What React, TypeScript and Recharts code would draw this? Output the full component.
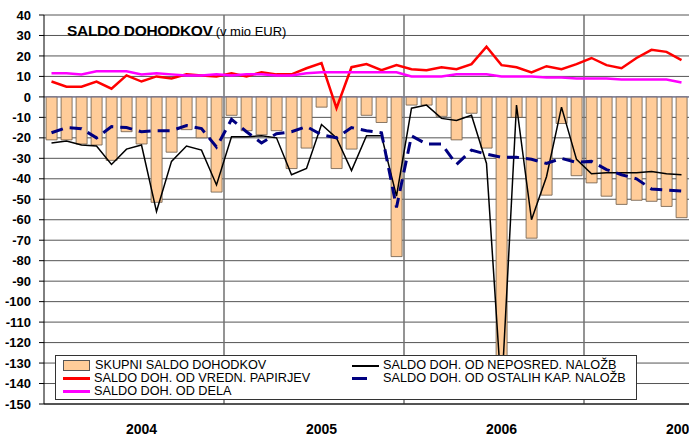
import {
  ComposedChart,
  Bar,
  Line,
  XAxis,
  YAxis,
  CartesianGrid,
  ReferenceLine,
} from "recharts";

// ==================== DATA ====================

const months = [
  "01/04", "02/04", "03/04", "04/04", "05/04", "06/04", "07/04", "08/04", "09/04", "10/04", "11/04", "12/04",
  "01/05", "02/05", "03/05", "04/05", "05/05", "06/05", "07/05", "08/05", "09/05", "10/05", "11/05", "12/05",
  "01/06", "02/06", "03/06", "04/06", "05/06", "06/06", "07/06", "08/06", "09/06", "10/06", "11/06", "12/06",
  "01/07", "02/07", "03/07", "04/07", "05/07", "06/07", "07/07",
];

// skupni saldo dohodkov (bars)
const skupni = [
  -21, -21, -23, -23.5, -31, -17, -23, -51.5, -27, -16, -20, -46.5,
  -9, -16.5, -18.5, -16.5, -35, -25, -5, -35, -25.5, -9, -12.5, -78,
  -4, -4, -9.5, -21, -8, -25, -147, -10, -69, -48, -13, -38.5,
  -42, -48.5, -52.5, -50.5, -51, -53.5, -59,
];

// neposredne nalozbe
const neposred = [
  -22.5, -21.5, -23.5, -24, -33, -25.5, -23.5, -56, -31.5, -24, -26, -43,
  -19.5, -19.5, -19, -20, -38, -35, -13.5, -20, -36, -19, -19, -48.5,
  -5.5, -4, -10.5, -11.5, -9, -32.5, -145, -4, -60, -39, -5, -30.5,
  -37.5, -37, -37, -37, -36.5, -37.5, -38,
];

// ostale kapitalske nalozbe
const ostalih = [
  -17.5, -15, -15.5, -20, -14.5, -15, -17, -16.5, -16.5, -14, -15.5, -24.5,
  -11, -17, -22.5, -18, -17, -14.5, -18.5, -20, -15, -16.5, -17.5, -54,
  -19, -23, -23, -33, -26, -28, -29.5, -29.5, -30.5, -32.5, -30, -32,
  -31.5, -35.5, -38, -40, -45, -45.5, -46,
];

// vrednostni papirji
const vredn = [
  7.5, 5, 5, 7.5, 4, 10.5, 7.5, 10, 9, 11, 10.5, 10,
  11.5, 10, 12, 11, 11, 14, 16.5, -5.5, 14.5, 16, 13, 15.5,
  13.5, 13, 14.5, 13.5, 16, 24.5, 15.5, 14.5, 12, 15, 13.5, 16,
  19, 15.5, 14, 19, 23, 22, 18,
];

// dohodki od dela
const dela = [
  11.5, 11.5, 11, 12.5, 12.5, 12.5, 11, 11.5, 11, 10.5, 10.5, 11,
  10.5, 11, 11, 10.5, 10.5, 11.5, 12, 12, 12, 12, 12, 12,
  10, 10, 10, 11, 11, 11, 10, 10, 10, 9.5, 9.5, 9,
  9, 9, 8.5, 8.5, 8.5, 8.5, 7,
];

const yTicks = [40, 30, 20, 10, 0, -10, -20, -30, -40, -50, -60, -70, -80, -90, -100, -110, -120, -130, -140, -150];
const yearTicks = ["07/04", "07/05", "07/06", "07/07"];
const yearLabels = ["2004", "2005", "2006", "2007"];
const yearStarts = ["01/05", "01/06", "01/07"];

const data = months.map((m, i) => ({
  m,
  skupni: skupni[i],
  neposred: neposred[i],
  ostalih: ostalih[i],
  vredn: vredn[i],
  dela: dela[i],
}));

// ==================== LEGEND ====================

const legendItems = [
  { label: "SKUPNI SALDO DOHODKOV", kind: "bar", color: "#FFCC99", col: 0, row: 0 },
  { label: "SALDO DOH. OD VREDN. PAPIRJEV", kind: "line", color: "#FF0000", col: 0, row: 1 },
  { label: "SALDO DOH. OD DELA", kind: "line", color: "#FF00FF", col: 0, row: 2 },
  { label: "SALDO DOH. OD NEPOSRED. NALOŽB", kind: "thin", color: "#000000", col: 1, row: 0 },
  { label: "SALDO DOH. OD OSTALIH KAP. NALOŽB", kind: "dash", color: "#000080", col: 1, row: 1 },
];

const ChartLegend = () => (
  <div
    style={{
      position: "absolute",
      left: 55,
      top: 355,
      width: 580,
      height: 43,
      border: "1px solid #333",
      background: "#fff",
      fontFamily: "Arial, 'Liberation Sans', sans-serif",
      fontSize: 12.7,
      color: "#000",
    }}
  >
    {legendItems.map((it) => {
      const left = it.col === 0 ? 7 : 296;
      const top = 3 + it.row * 13;
      return (
        <div
          key={it.label}
          style={{ position: "absolute", left, top, height: 13, display: "flex", alignItems: "center", whiteSpace: "nowrap" }}
        >
          {it.kind === "bar" ? (
            <div style={{ width: 25, height: 9, background: it.color, border: "1px solid #555", marginRight: 5 }} />
          ) : it.kind === "dash" ? (
            <div style={{ width: 27, height: 3, marginRight: 4, display: "flex" }}>
              <div style={{ width: 15, height: 3, background: it.color }} />
            </div>
          ) : (
            <div
              style={{
                width: 27,
                height: it.kind === "thin" ? 2 : 3,
                background: it.color,
                marginRight: 4,
              }}
            />
          )}
          <span style={{ lineHeight: "13px" }}>{it.label}</span>
        </div>
      );
    })}
  </div>
);

// ==================== CHART ====================

export default function App() {
  return (
    <div
      style={{
        position: "absolute",
        left: 0,
        top: 0,
        width: 689,
        height: 436,
        background: "#fff",
        overflow: "hidden",
        fontFamily: "Arial, 'Liberation Sans', sans-serif",
      }}
    >
      <ComposedChart
        width={689}
        height={436}
        data={data}
        margin={{ top: 15, right: 0, bottom: 0, left: 0 }}
        barCategoryGap="14%"
      >
        <CartesianGrid vertical={false} stroke="#555" strokeWidth={1} />
        <XAxis
          dataKey="m"
          ticks={yearTicks}
          interval={0}
          height={32}
          tickLine={false}
          tickSize={0}
          tickMargin={20}
          axisLine={{ stroke: "#000" }}
          tickFormatter={(v) => yearLabels[yearTicks.indexOf(v)] ?? ""}
          tick={{ fontSize: 14, fontWeight: "bold", fill: "#000" }}
        />
        <YAxis
          domain={[-150, 40]}
          ticks={yTicks}
          interval={0}
          width={44}
          tickSize={5}
          tickMargin={8}
          axisLine={{ stroke: "#000" }}
          tickLine={{ stroke: "#000" }}
          tick={{ fontSize: 13, fontWeight: "bold", fill: "#000" }}
          allowDataOverflow
        />
        {yearStarts.map((m) => (
          <ReferenceLine key={m} x={m} position="start" stroke="#707070" strokeWidth={1.5} />
        ))}
        <Bar dataKey="skupni" fill="#FFCC99" stroke="#6b5a4a" strokeWidth={0.8} isAnimationActive={false} />
        <ReferenceLine y={0} stroke="#8080a0" strokeWidth={1} />
        <Line
          dataKey="neposred"
          stroke="#000"
          strokeWidth={1.5}
          dot={false}
          isAnimationActive={false}
        />
        <Line
          dataKey="ostalih"
          stroke="#000080"
          strokeWidth={3}
          strokeDasharray="12 7"
          dot={false}
          isAnimationActive={false}
        />
        <Line dataKey="vredn" stroke="#FF0000" strokeWidth={2.5} dot={false} isAnimationActive={false} />
        <Line dataKey="dela" stroke="#FF00FF" strokeWidth={2.5} dot={false} isAnimationActive={false} />
      </ComposedChart>

      <div style={{ position: "absolute", left: 67, top: 22, whiteSpace: "nowrap", color: "#000" }}>
        <span style={{ fontSize: 15.5, fontWeight: "bold", letterSpacing: -0.3 }}>SALDO DOHODKOV</span>
        <span style={{ fontSize: 13, marginLeft: 3 }}>(v mio EUR)</span>
      </div>

      <ChartLegend />
    </div>
  );
}
